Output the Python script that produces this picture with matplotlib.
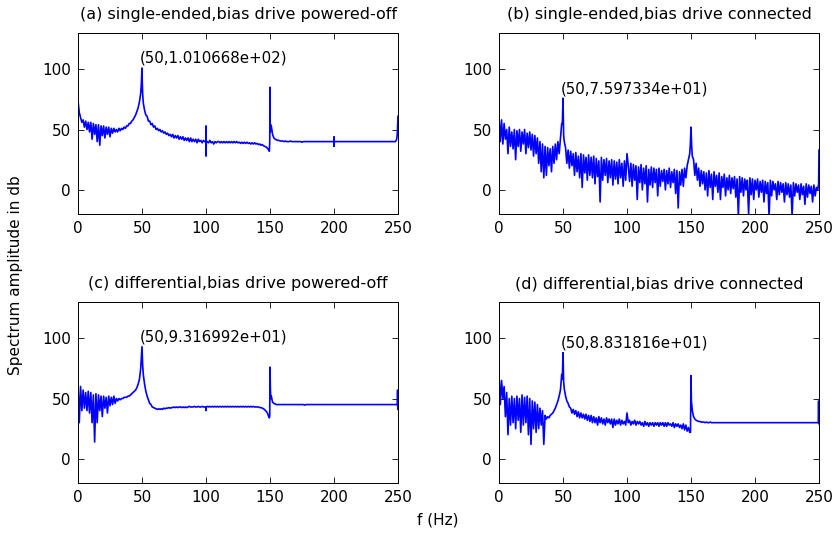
import numpy as np
import matplotlib
matplotlib.use("Agg")
import matplotlib.pyplot as plt

plt.rcParams['font.family'] = ['DejaVu Sans']

# ---------------- data ----------------
freq = np.arange(0, 251)  # 1 Hz bins

amp_a = [
    74, 64, 60, 56, 58, 52, 57, 50, 56, 48,
    56, 42, 55, 46, 54, 40, 54, 37, 53, 45,
    53, 43, 52, 46, 52, 44, 51, 47, 51, 48,
    50, 48, 51, 49, 51, 50, 52, 51, 53, 53,
    55, 55, 57, 58, 60, 62, 65, 68, 73, 80,
    101, 72, 66, 62, 61, 57, 57, 54, 55, 52,
    53, 50, 51, 49, 50, 48, 49, 47, 48, 46,
    47, 45, 46, 44, 46, 43, 45, 43, 45, 42,
    44, 42, 44, 41, 43, 41, 43, 40, 43, 40,
    42, 40, 42, 39, 42, 40, 41, 39, 41, 40,
    40, 40, 39, 41, 39, 40, 38, 40, 39, 40,
    40, 39, 40, 39, 40, 39, 40, 39, 40, 39,
    40, 39, 40, 39, 40, 39, 39.5, 38.5, 39.5, 38.5,
    39.5, 38.5, 39.5, 38.5, 39, 38, 39, 38, 39, 38,
    38.5, 37.5, 38, 37, 37.5, 36.5, 36, 35.5, 34.5, 33,
    85, 53, 46, 43, 42, 41.5, 41, 41, 40.5, 40.5,
    40.5, 40, 40.5, 40, 40, 40, 40.5, 40, 40, 40,
    40, 40, 40, 40, 40, 39.5, 40, 40, 40, 40,
    40, 40, 40, 40, 40, 40, 40, 40, 40, 40,
    40, 40, 40, 40, 40, 40, 40, 40, 40, 40,
    40, 40, 40, 40, 40, 40, 40, 40, 40, 40,
    40, 40, 40, 40, 40, 40, 40, 40, 40, 40,
    40, 40, 40, 40, 40, 40, 40, 40, 40, 40,
    40, 40, 40, 40, 40, 40, 40, 40, 40, 40,
    40, 40, 40, 40, 40, 40, 40, 40, 40, 42,
    61,
]
extra_f_a = [49.5, 49.8, 50.2, 50.5, 99.9, 100.05, 100.1, 100.2,
             149.5, 149.8, 150.2, 150.5, 199.9, 200.05, 200.1, 200.2, 249.5]
extra_amp_a = [88, 95, 90, 80, 40, 53, 28, 40,
               32, 40, 48, 54, 40, 44, 36, 40, 47]

amp_b = [
    60, 40, 58, 38, 55, 42, 50, 30, 52, 36,
    48, 34, 50, 25, 49, 36, 50, 32, 48, 38,
    50, 30, 47, 35, 48, 33, 46, 28, 45, 30,
    43, 22, 40, 15, 38, 10, 36, 12, 35, 20,
    34, 15, 36, 22, 38, 25, 40, 30, 43, 55,
    76, 40, 35, 22, 33, 18, 32, 20, 30, 12,
    31, 15, 28, 10, 30, 2, 29, 14, 27, 8,
    29, 12, 27, 10, 28, 5, 26, 11, 24, -10,
    27, 8, 25, 12, 26, 6, 24, 10, 25, 4,
    24, 9, 23, 5, 25, 10, 22, 3, 24, 8,
    30, 20, 7, 22, 3, 21, 8, 20, -8, 19,
    6, 21, 0, 18, 5, 20, -10, 17, 4, 19,
    2, 18, 6, 17, -5, 18, 3, 16, 7, 17,
    0, 16, 5, 18, 2, 15, 6, 17, -3, 16,
    -15, 15, 4, 17, 3, 18, 10, 20, 25, 30,
    52, 28, 25, 12, 22, 8, 18, 3, 16, 5,
    15, 0, 14, -5, 16, 2, 13, -8, 15, 3,
    12, -2, 14, -8, 11, 2, 13, -5, 10, 0,
    12, -3, 10, 1, 11, -6, 9, -22, 11, -2,
    10, -5, 9, 0, 8, -20, 10, -4, 9, -8,
    8, 0, 9, -6, 7, -2, 8, -10, 7, -3,
    6, -22, 8, -5, 7, 0, 5, -8, 7, -4,
    6, -2, 5, -10, 6, -4, 5, -6, 4, -22,
    6, -5, 5, -2, 4, -8, 5, -4, 3, -12,
    5, -6, 4, -3, 3, -10, 4, -5, 2, 0,
    33,
]
extra_f_b = [49.5, 50.5, 149.5, 150.5, 249.7]
extra_amp_b = [55, 45, 38, 37, 5]

amp_c = [
    62, 30, 60, 40, 57, 42, 55, 40, 56, 38,
    55, 30, 53, 14, 54, 30, 53, 40, 52, 35,
    52, 42, 51, 38, 52, 44, 51, 45, 52, 46,
    50, 48, 50, 49, 50, 50, 51, 51, 51, 52,
    52, 53, 54, 55, 56, 57, 59, 62, 66, 75,
    93, 70, 62, 56, 52, 49, 46, 45, 43, 42.5,
    42, 41.5, 41, 41.5, 41, 41.5, 41, 42, 41.5, 42,
    42, 42.5, 42, 42.5, 42.5, 43, 42.5, 43, 42.5, 43,
    43, 42.5, 43, 42.5, 43, 42.5, 43, 43.5, 43, 43,
    43, 43.5, 43, 43, 43.5, 43, 43, 43.5, 43, 43,
    43, 43.5, 43, 43.5, 43, 43.5, 43, 43.5, 43, 43.5,
    43, 43.5, 43, 43.5, 43, 43.5, 43, 43.5, 43, 43.5,
    43, 43.5, 43, 43.5, 43, 43.5, 43, 43.5, 43, 43.5,
    43, 43.5, 43, 43.5, 43, 43.5, 43, 43.5, 43, 43,
    43, 43, 42.5, 42.5, 42, 41.5, 40.5, 39.5, 38, 35,
    76, 52, 47, 46, 45.5, 45, 45, 45, 45, 45,
    45, 45, 45, 45, 45, 45, 45, 45, 45, 45,
    45, 45, 45, 45, 45, 45, 45, 44.5, 45, 45,
    45, 45, 45, 45, 45, 45, 45, 45, 45, 45,
    45, 45, 45, 45, 45, 45, 45, 45, 45, 45,
    45, 45, 45, 45, 45, 45, 45, 45, 45, 45,
    45, 45, 45, 45, 45, 45, 45, 45, 45, 45,
    45, 45, 45, 45, 45, 45, 45, 45, 45, 45,
    45, 45, 45, 45, 45, 45, 45, 45, 45, 45,
    45, 45, 45, 45, 45, 45, 45, 45, 45, 45,
    45,
]
extra_f_c = [49.5, 50.5, 99.9, 100.05, 100.2, 149.5, 149.8, 150.3, 150.6,
             249.5, 249.7, 249.85]
extra_amp_c = [84, 78, 43, 40, 43, 34, 36, 58, 50,
               45, 57, 41]

amp_d = [
    70, 45, 65, 50, 60, 35, 55, 20, 50, 28,
    52, 30, 50, 25, 52, 32, 50, 22, 53, 28,
    51, 30, 52, 20, 50, 12, 48, 25, 47, 22,
    45, 25, 42, 28, 40, 12, 36, 33, 35, 34,
    36, 37, 38, 40, 42, 45, 48, 52, 57, 70,
    88, 58, 52, 48, 46, 43, 42, 38, 41, 37,
    40, 35, 39, 34, 38, 34, 37, 33, 37, 32,
    36, 31, 36, 30, 35, 30, 34, 28, 35, 30,
    34, 29, 33, 28, 34, 30, 33, 29, 33, 26,
    33, 28, 32, 29, 33, 28, 32, 29, 31, 28,
    38, 30, 32, 28, 31, 29, 32, 28, 31, 29,
    31, 28, 30, 27, 31, 28, 30, 27, 30, 28,
    30, 27, 30, 28, 30, 27, 30, 28, 30, 27,
    30, 27, 30, 28, 29, 27, 30, 26, 29, 27,
    29, 26, 28, 25, 29, 24, 28, 23, 26, 22,
    69, 40, 35, 33, 32, 31.5, 31, 31, 30.5, 30.5,
    30.5, 30, 30.5, 30, 30, 30.5, 30, 30, 30, 30,
    30, 30, 30, 30, 30, 30, 30, 30, 30, 30,
    30, 30, 30, 30, 30, 30, 30, 30, 30, 30,
    30, 30, 30, 30, 30, 30, 30, 30, 30, 30,
    30, 30, 30, 30, 30, 30, 30, 30, 30, 30,
    30, 30, 30, 30, 30, 30, 30, 30, 30, 30,
    30, 30, 30, 30, 30, 30, 30, 30, 30, 30,
    30, 30, 30, 30, 30, 30, 30, 30, 30, 30,
    30, 30, 30, 30, 30, 30, 30, 30, 30, 30,
    30,
]
extra_f_d = [49.5, 50.5, 149.6, 150.3, 150.6, 249.5, 249.7, 249.85]
extra_amp_d = [66, 64, 22, 48, 45, 30, 48, 29]

titles = [
    "(a) single-ended,bias drive powered-off",
    "(b) single-ended,bias drive connected",
    "(c) differential,bias drive powered-off",
    "(d) differential,bias drive connected",
]
peak_f = [50, 50, 50, 50]
peak_amp = [1.010668e+02, 7.597334e+01, 9.316992e+01, 8.831816e+01]

series = [
    (amp_a, extra_f_a, extra_amp_a),
    (amp_b, extra_f_b, extra_amp_b),
    (amp_c, extra_f_c, extra_amp_c),
    (amp_d, extra_f_d, extra_amp_d),
]

# ---------------- figure ----------------
W, H = 834, 535
fig = plt.figure(figsize=(W / 100, H / 100), dpi=100)

boxes = [  # left, top, right, bottom in pixels
    (78, 33, 398, 214),
    (499, 33, 819, 214),
    (78, 302, 398, 483),
    (499, 302, 819, 483),
]

FS = 11
for (l, t, r, b), title, (amp, ef, ea), pf, pa in zip(boxes, titles, series, peak_f, peak_amp):
    ax = fig.add_axes([l / W, 1 - b / H, (r - l) / W, (b - t) / H])
    f_all = np.concatenate([freq, np.asarray(ef, float)])
    a_all = np.concatenate([np.asarray(amp, float), np.asarray(ea, float)])
    order = np.argsort(f_all, kind="stable")
    ax.plot(f_all[order], a_all[order], color=(0, 0, 1), lw=1.2)
    ax.set_xlim(0, 250)
    ax.set_ylim(-20, 130)
    ax.set_xticks([0, 50, 100, 150, 200, 250])
    ax.set_yticks([0, 50, 100])
    ax.tick_params(direction="in", length=4, width=0.6, top=True, right=True,
                   labelsize=FS, pad=5, colors="black")
    for sp in ax.spines.values():
        sp.set_linewidth(0.7)
    ax.set_title(title, fontsize=11.5, pad=10)
    ax.text(pf - 1.5, pa + 8, "(%d,%.6e)" % (pf, pa), fontsize=10.8,
            ha="left", va="center")

fig.text(16 / W, 1 - 275 / H, "Spectrum amplitude in db", rotation=90,
         ha="center", va="center", fontsize=FS)
fig.text(438 / W, 1 - 520 / H, "f (Hz)", ha="center", va="center", fontsize=FS)

fig.savefig("out.png", dpi=100)
